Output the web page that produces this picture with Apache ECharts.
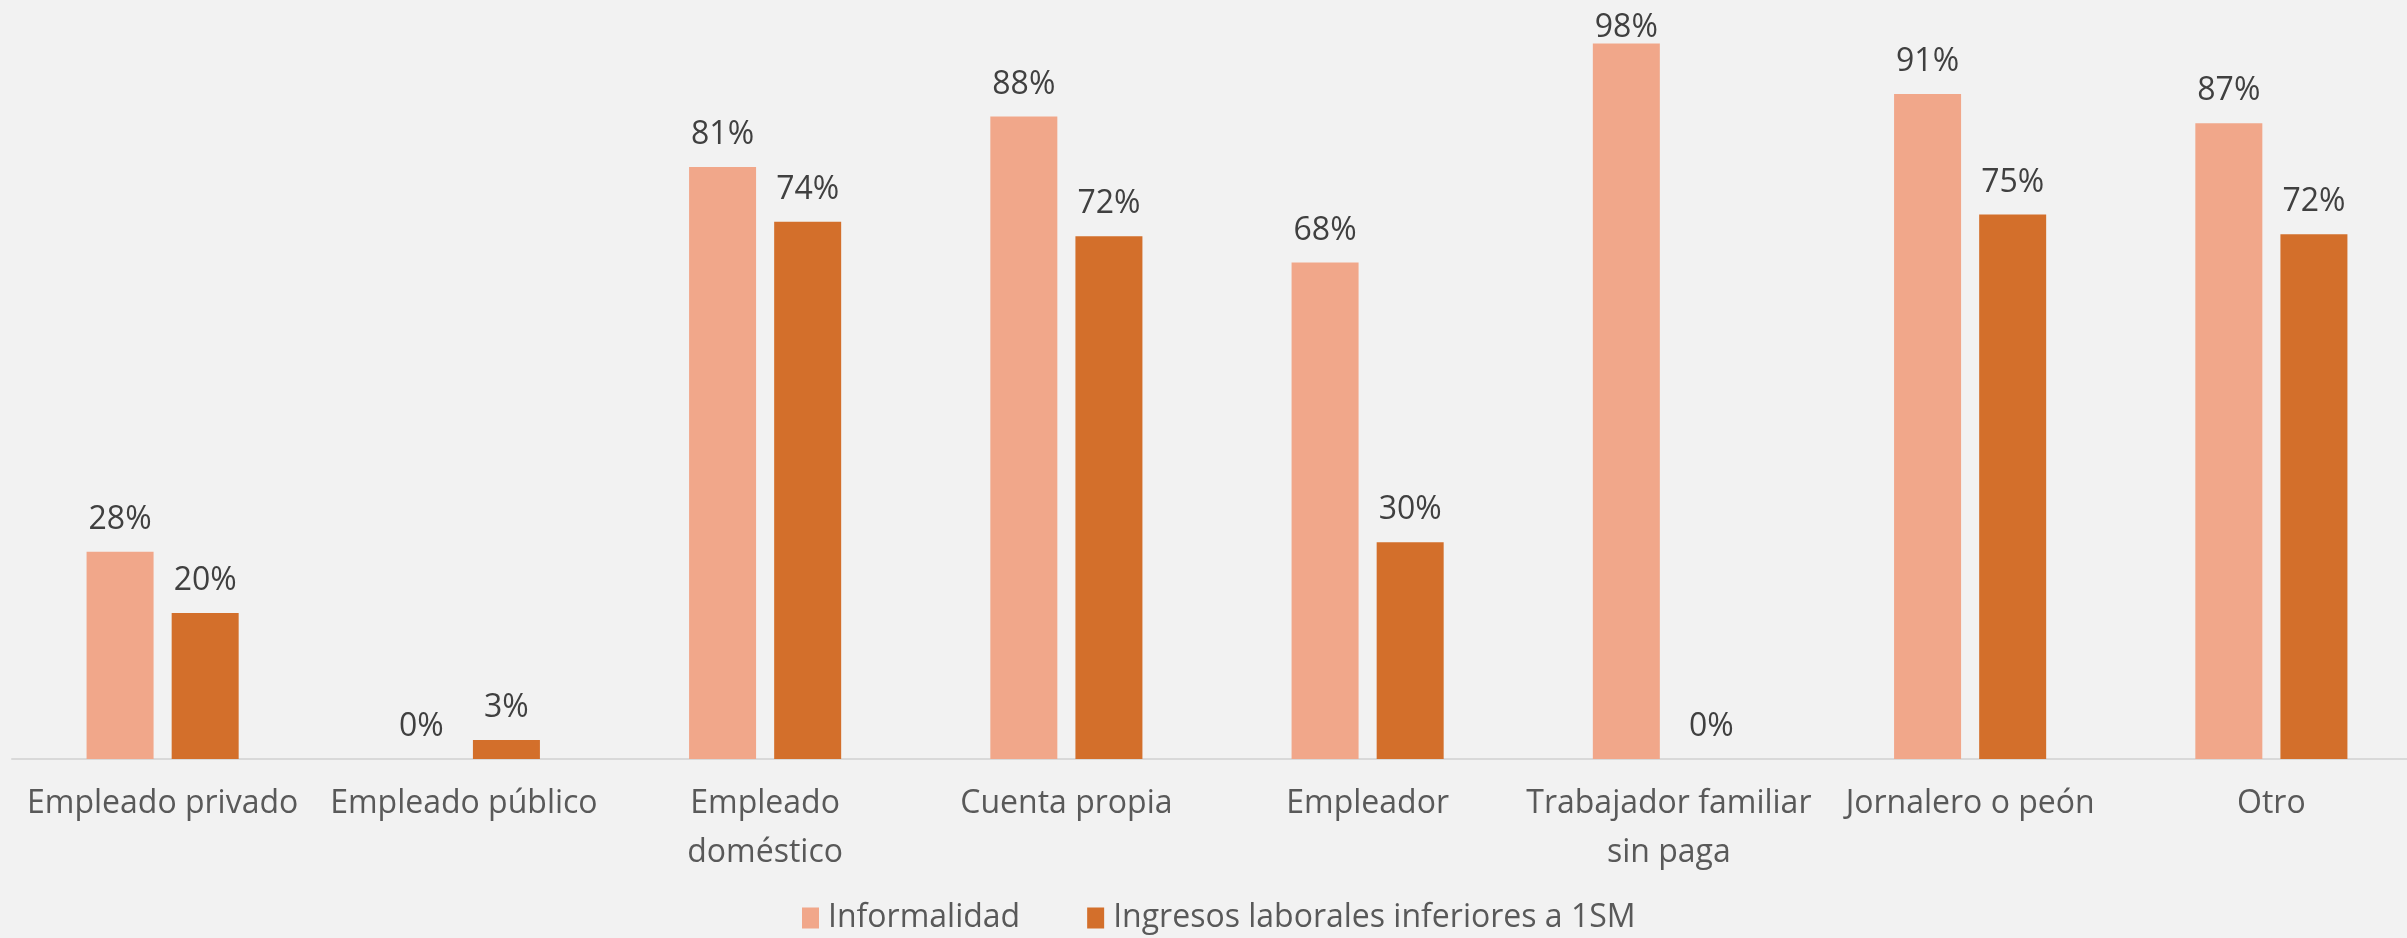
<!DOCTYPE html>
<html>
<head>
<meta charset="utf-8">
<script src="https://cdn.jsdelivr.net/npm/echarts@6/dist/echarts.min.js"></script>
<style>
html,body{margin:0;padding:0;background:#F2F2F2;}
#chart{width:2407px;height:938px;}
</style>
</head>
<body>
<div id="chart"></div>
<script>
const categories = ['Empleado privado', 'Empleado público', 'Empleado\ndoméstico', 'Cuenta propia', 'Empleador', 'Trabajador familiar\nsin paga', 'Jornalero o peón', 'Otro'];
const seriesNames = ['Informalidad', 'Ingresos laborales inferiores a 1SM'];
const informalidad = [28.4, 0, 81.1, 88.0, 68.0, 98.0, 91.1, 87.1];
const ingresos = [20.0, 2.6, 73.6, 71.6, 29.7, 0, 74.6, 71.9];

const chart = echarts.init(document.getElementById('chart'));
const font = '"Open Sans", Lato, sans-serif';
const labelCfg = {
  show: true,
  position: 'top',
  distance: 16,
  color: '#404040',
  fontFamily: font,
  fontSize: 32,
  formatter: p => Math.round(p.value) + '%'
};
// labels that would run past the top of the chart area are pulled closer to their bar
const toItems = arr => arr.map(v => v > 95 ? { value: v, label: { distance: 0 } } : v);

chart.setOption({
  backgroundColor: '#F2F2F2',
  animation: false,
  grid: { left: 12, top: 29, bottom: 179, width: 2410, containLabel: false, outerBoundsMode: 'none' },
  legend: {
    data: seriesNames,
    left: 797,
    top: 897,
    itemWidth: 17,
    itemHeight: 21,
    itemGap: 67,
    icon: 'rect',
    textStyle: { color: '#595959', fontFamily: font, fontSize: 32, padding: [0, 0, 0, 4] }
  },
  xAxis: {
    type: 'category',
    data: categories,
    axisLine: { lineStyle: { color: '#D9D9D9', width: 2 } },
    axisTick: { show: false },
    axisLabel: { color: '#595959', fontFamily: font, fontSize: 32, lineHeight: 49, margin: 20, interval: 0 }
  },
  yAxis: {
    type: 'value',
    min: 0,
    max: 100,
    show: false,
    splitLine: { show: false }
  },
  series: [
    { name: seriesNames[0], type: 'bar', data: toItems(informalidad), barWidth: 67, barGap: '27%', itemStyle: { color: '#F1A78A' }, label: labelCfg },
    { name: seriesNames[1], type: 'bar', data: toItems(ingresos), barWidth: 67, barGap: '27%', itemStyle: { color: '#D36F2B' }, label: labelCfg }
  ]
});
</script>
</body>
</html>
